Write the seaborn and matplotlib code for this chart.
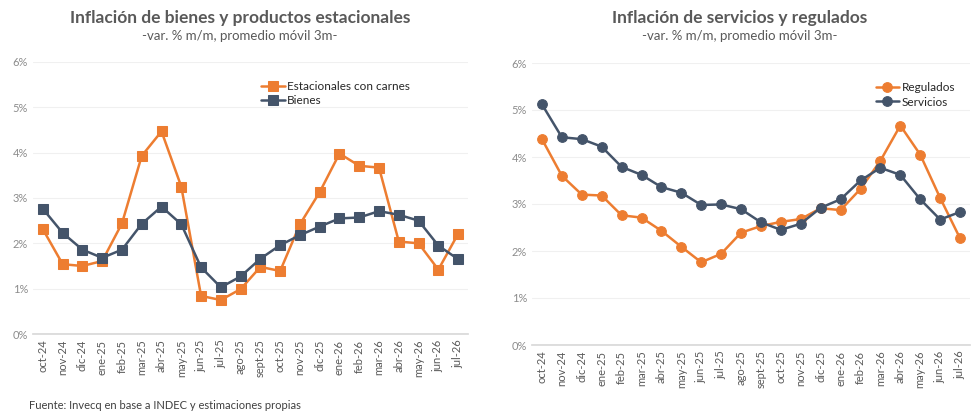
import pandas as pd
import numpy as np
import matplotlib.pyplot as plt
import seaborn as sns
from matplotlib.ticker import PercentFormatter

sns.set_theme(style='white')
plt.rcParams['font.family'] = ['Lato', 'DejaVu Sans']

months = ['oct-24', 'nov-24', 'dic-24', 'ene-25', 'feb-25', 'mar-25', 'abr-25', 'may-25',
          'jun-25', 'jul-25', 'ago-25', 'sept-25', 'oct-25', 'nov-25', 'dic-25', 'ene-26',
          'feb-26', 'mar-26', 'abr-26', 'may-26', 'jun-26', 'jul-26']
estacionales = [2.31, 1.54, 1.50, 1.61, 2.44, 3.93, 4.47, 3.25, 0.84, 0.75, 0.99, 1.48,
                1.39, 2.42, 3.13, 3.98, 3.71, 3.67, 2.04, 2.00, 1.42, 2.21]
bienes = [2.76, 2.23, 1.86, 1.68, 1.86, 2.43, 2.81, 2.42, 1.47, 1.03, 1.27, 1.66,
          1.96, 2.18, 2.37, 2.55, 2.57, 2.71, 2.63, 2.50, 1.95, 1.65]
regulados = [4.38, 3.60, 3.20, 3.18, 2.76, 2.71, 2.43, 2.09, 1.76, 1.94, 2.39, 2.53,
             2.62, 2.68, 2.91, 2.87, 3.32, 3.92, 4.67, 4.05, 3.13, 2.27]
servicios = [5.12, 4.42, 4.38, 4.22, 3.79, 3.62, 3.36, 3.24, 2.98, 2.99, 2.89, 2.61,
             2.45, 2.58, 2.92, 3.10, 3.50, 3.77, 3.62, 3.10, 2.67, 2.83]

ORANGE = '#ED7D31'
NAVY = '#44546A'

fig = plt.figure(figsize=(9.74, 4.19), dpi=100)
ax1 = fig.add_axes([33 / 974, 1 - 334 / 419, 435 / 974, 272 / 419])
ax2 = fig.add_axes([532 / 974, 1 - 345 / 419, 438 / 974, 282 / 419])

panels = [
    (ax1, 'Inflación de bienes y productos estacionales',
     [('Estacionales con carnes', estacionales, ORANGE), ('Bienes', bienes, NAVY)], 's', (0.5, 0.97)),
    (ax2, 'Inflación de servicios y regulados',
     [('Regulados', regulados, ORANGE), ('Servicios', servicios, NAVY)], 'o', (0.76, 0.97)),
]

for ax, title, series, marker, lpos in panels:
    x = np.arange(len(months))
    for name, vals, col in series:
        sns.lineplot(x=x, y=vals, ax=ax, color=col, marker=marker, markersize=7,
                     markeredgecolor=col, linewidth=1.8, label=name)
    ax.set_ylim(0, 6)
    ax.set_xlim(-0.5, len(months) - 0.5)
    ax.yaxis.set_major_formatter(PercentFormatter(decimals=0))
    ax.set_yticks(range(0, 7))
    ax.set_xticks(x)
    ax.set_xticklabels(months, rotation=90, fontsize=8, color='#595959')
    ax.tick_params(axis='y', labelsize=8, labelcolor='#8c8c8c', length=0)
    ax.tick_params(axis='x', length=0, pad=4)
    ax.grid(axis='y', color='#f0f0f0', linewidth=0.8)
    for s in ['top', 'right', 'left']:
        ax.spines[s].set_visible(False)
    ax.spines['bottom'].set_color('#d9d9d9')
    ax.legend(loc='upper left', bbox_to_anchor=lpos, frameon=False, fontsize=8.5,
              handlelength=2, handletextpad=0.2, labelspacing=0.3)

fig.text(240 / 974, 1 - 18 / 419, 'Inflación de bienes y productos estacionales', ha='center',
         va='center', fontsize=12.5, fontweight='bold', color='#595959')
fig.text(240 / 974, 1 - 36 / 419, '-var. % m/m, promedio móvil 3m-', ha='center',
         va='center', fontsize=9.5, color='#595959')
fig.text(740 / 974, 1 - 18 / 419, 'Inflación de servicios y regulados', ha='center',
         va='center', fontsize=12.5, fontweight='bold', color='#595959')
fig.text(740 / 974, 1 - 36 / 419, '-var. % m/m, promedio móvil 3m-', ha='center',
         va='center', fontsize=9.5, color='#595959')

fig.text(0.03, 0.025, 'Fuente: Invecq en base a INDEC y estimaciones propias',
         fontsize=8, color='#404040')

fig.savefig('out.png', dpi=100)
